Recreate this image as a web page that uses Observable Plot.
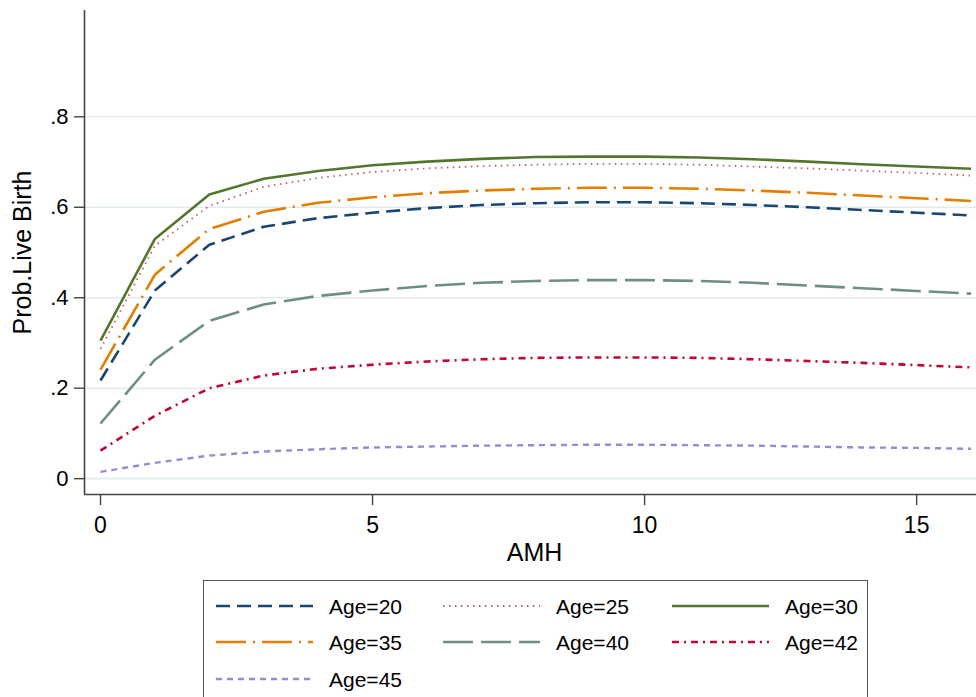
<!DOCTYPE html>
<html><head><meta charset="utf-8">
<script src="https://cdn.jsdelivr.net/npm/d3@7"></script>
<script src="https://cdn.jsdelivr.net/npm/@observablehq/plot@0.6"></script>
<style>
body{margin:0;background:#fff;font-family:"Liberation Sans",Arial,sans-serif;}
#wrap{position:relative;width:976px;height:697px;overflow:hidden;background:#fff;}
#legend{position:absolute;left:203px;top:580px;width:665px;height:140px;border:1.5px solid #555;box-sizing:border-box;background:#fff;}
</style></head><body>
<div id="wrap"><div id="chart"></div><div id="legend"></div></div>
<script>
// ---- data ----
const amh   = [0,1,2,3,4,5,6,7,8,9,10,11,12,13,14,15,16];
const age20 = [0.217,0.416,0.517,0.557,0.576,0.588,0.598,0.605,0.609,0.611,0.611,0.609,0.605,0.600,0.594,0.588,0.582];
const age25 = [0.287,0.515,0.603,0.645,0.665,0.678,0.686,0.691,0.694,0.696,0.696,0.694,0.690,0.686,0.681,0.676,0.670];
const age30 = [0.305,0.530,0.628,0.663,0.680,0.693,0.701,0.707,0.711,0.712,0.712,0.710,0.706,0.701,0.695,0.690,0.685];
const age35 = [0.241,0.451,0.552,0.590,0.610,0.622,0.631,0.637,0.641,0.643,0.643,0.641,0.637,0.632,0.626,0.620,0.614];
const age40 = [0.122,0.263,0.349,0.385,0.404,0.416,0.426,0.433,0.437,0.439,0.439,0.437,0.433,0.427,0.421,0.415,0.409];
const age42 = [0.062,0.139,0.200,0.228,0.243,0.252,0.259,0.264,0.267,0.268,0.268,0.267,0.264,0.260,0.256,0.251,0.246];
const age45 = [0.015,0.035,0.051,0.060,0.065,0.069,0.071,0.073,0.074,0.075,0.075,0.074,0.073,0.071,0.069,0.068,0.066];
const seriesLabels = ["Age=20","Age=25","Age=30","Age=35","Age=40","Age=42","Age=45"];
const seriesValues = [age20,age25,age30,age35,age40,age42,age45];
const xTicks = [0,5,10,15];
const yTicks = [0,0.2,0.4,0.6,0.8];
const xLabel = "AMH";
const yLabel = "Prob.Live Birth";

// ---- styles ----
const styles = [
  {stroke:"#1a476f", dash:"14,7",       width:2.6},
  {stroke:"#b8606a", dash:"1.5,4.5",    width:1.8},
  {stroke:"#55752f", dash:null,         width:2.6},
  {stroke:"#e37e00", dash:"30,7,2,7",   width:2.6},
  {stroke:"#6e8e84", dash:"30,8",       width:2.6},
  {stroke:"#c10534", dash:"7,5,2,5",    width:2.6},
  {stroke:"#938dd2", dash:"6,5",        width:2.4}
];

const xDomain = [-0.294, 16.1];
const yDomain = [-0.035, 1.035];
const font = '"Liberation Sans", Arial, sans-serif';

const lineMarks = seriesValues.map((vals, i) => {
  const data = amh.map((a, j) => ({amh: a, p: vals[j]}));
  return Plot.line(data, {x: "amh", y: "p", stroke: styles[i].stroke,
    strokeWidth: styles[i].width, strokeDasharray: styles[i].dash || undefined,
    strokeLinejoin: "round", strokeLinecap: "butt"});
});

const fmt = d => d === 0 ? "0" : String(+d.toFixed(1)).replace("0.", ".");

const chart = Plot.plot({
  width: 976, height: 575,
  marginTop: 10, marginBottom: 81, marginLeft: 84, marginRight: 0,
  style: {fontFamily: font, background: "#fff", color: "#000", overflow: "visible"},
  x: {domain: xDomain},
  y: {domain: yDomain},
  marks: [
    Plot.gridY(yTicks, {stroke: "#e2ebef", strokeOpacity: 1, strokeWidth: 1.6}),
    ...lineMarks,
    Plot.ruleX([xDomain[0]], {stroke: "#444", strokeWidth: 1.6}),
    Plot.ruleY([yDomain[0]], {stroke: "#444", strokeWidth: 1.6}),
    Plot.axisY(yTicks, {tickSize: 10, tickPadding: 6, fontSize: 22, tickFormat: fmt, label: null, stroke: "#444", strokeWidth: 1.4, fill: "#000"}),
    Plot.axisX(xTicks, {tickSize: 11, tickPadding: 11, fontSize: 23, label: null, stroke: "#444", strokeWidth: 1.4, fill: "#000"}),
    Plot.text([xLabel], {frameAnchor: "bottom", dx: 4, dy: 58, lineAnchor: "middle", fontSize: 25, fill: "#000"}),
    Plot.text([yLabel], {frameAnchor: "left", dx: -62, rotate: -90, lineAnchor: "middle", textAnchor: "middle", fontSize: 25, fill: "#000"})
  ]
});
document.getElementById("chart").appendChild(chart);

// ---- legend ----
const leg = d3.select("#legend").append("svg").attr("width", 665).attr("height", 140).style("display","block");
const colX = [12, 239, 468];
const rowY = [25, 61, 98];
seriesLabels.forEach((lab, i) => {
  const cx = colX[i % 3], cy = rowY[Math.floor(i / 3)];
  leg.append("line").attr("x1", cx).attr("x2", cx + 97).attr("y1", cy).attr("y2", cy)
    .attr("stroke", styles[i].stroke).attr("stroke-width", styles[i].width)
    .attr("stroke-dasharray", styles[i].dash);
  leg.append("text").attr("x", cx + 113).attr("y", cy + 8).text(lab)
    .attr("font-size", 21).attr("font-family", font).attr("fill", "#000");
});
</script>
</body></html>
